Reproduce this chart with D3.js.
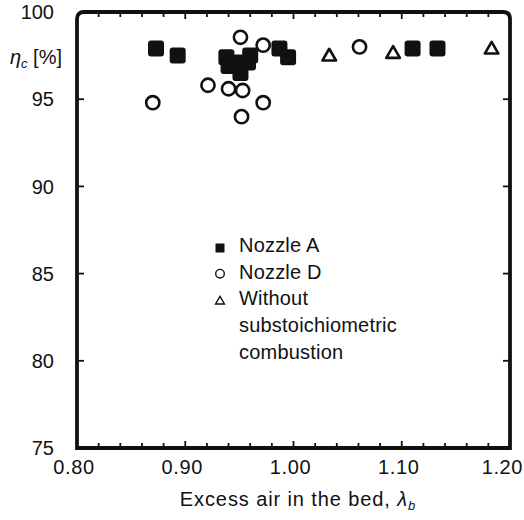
<!DOCTYPE html>
<html><head><meta charset="utf-8">
<script src="https://cdn.jsdelivr.net/npm/d3@7"></script>
<style>
html,body{margin:0;padding:0;background:#fff;}
text{font-family:"Liberation Sans",Arial,sans-serif;fill:#111;}
</style></head>
<body>
<svg id="chart" width="524" height="520"></svg>
<script>
// ---- data ----
const nozzleA_x = [0.873, 0.893, 0.938, 0.940, 0.947, 0.951, 0.958, 0.960, 0.987, 0.995, 1.110, 1.133];
const nozzleA_y = [97.9, 97.5, 97.4, 96.9, 97.1, 96.5, 97.1, 97.5, 97.9, 97.4, 97.9, 97.9];
const nozzleD_x = [0.870, 0.921, 0.940, 0.951, 0.953, 0.952, 0.972, 0.972, 1.061];
const nozzleD_y = [94.8, 95.8, 95.6, 98.55, 95.5, 94.0, 98.1, 94.8, 98.0];
const without_x = [1.033, 1.092, 1.183];
const without_y = [97.5, 97.65, 97.9];
const xTicks = [0.80, 0.90, 1.00, 1.10, 1.20];
const xTickLabels = ["0.80", "0.90", "1.00", "1.10", "1.20"];
const yTicks = [75, 80, 85, 90, 95, 100];
const legendLabels = ["Nozzle A", "Nozzle D", ["Without", "substoichiometric", "combustion"]];

// ---- layout ----
const svg = d3.select("#chart");
const L = 77, R = 510, T = 12, B = 448;
const x = d3.scaleLinear().domain([0.80, 1.20]).range([L, R]);
const y = d3.scaleLinear().domain([75, 100]).range([B, T]);
const fs = 20;

// minor x ticks (inward) every 0.02
const minorX = d3.range(0.82, 1.20, 0.02).map(v => +v.toFixed(2));
const g = svg.append("g").attr("stroke", "#111").attr("stroke-width", 1.8);
minorX.forEach(v => {
  const major = Math.abs(v * 10 - Math.round(v * 10)) < 1e-6;
  const len = major ? 7 : 5;
  g.append("line").attr("x1", x(v)).attr("x2", x(v)).attr("y1", B).attr("y2", B - len);
  g.append("line").attr("x1", x(v)).attr("x2", x(v)).attr("y1", T).attr("y2", T + len);
});
yTicks.slice(1, -1).forEach(v => {
  g.append("line").attr("x1", L).attr("x2", L + 7).attr("y1", y(v)).attr("y2", y(v));
  g.append("line").attr("x1", R).attr("x2", R - 7).attr("y1", y(v)).attr("y2", y(v));
});

// frame with rounded top corners
svg.append("path")
  .attr("d", `M${L},${B} L${L},${T + 7} Q${L},${T} ${L + 7},${T} L${R - 7},${T} Q${R},${T} ${R},${T + 7} L${R},${B} Z`)
  .attr("fill", "none").attr("stroke", "#111").attr("stroke-width", 3.8);

// tick labels
svg.append("g").selectAll("text").data(yTicks).join("text")
  .attr("x", 54).attr("y", d => y(d)).attr("dy", "0.36em")
  .attr("text-anchor", "end").attr("font-size", fs).text(d => d);
svg.append("g").selectAll("text").data(xTicks).join("text")
  .attr("x", (d, i) => i === xTicks.length - 1 ? 523 : x(d) - 3).attr("y", 474)
  .attr("text-anchor", (d, i) => i === xTicks.length - 1 ? "end" : "middle")
  .attr("font-size", fs).attr("letter-spacing", 0.6)
  .text((d, i) => xTickLabels[i]);

// axis titles
const yt = svg.append("text").attr("x", 62).attr("y", 64).attr("text-anchor", "end").attr("font-size", fs);
yt.append("tspan").attr("font-style", "italic").text("η");
yt.append("tspan").attr("font-style", "italic").attr("font-size", 13).attr("dy", 4).text("c");
yt.append("tspan").attr("dy", -4).text(" [%]");

const xt = svg.append("text").attr("x", 298).attr("y", 506).attr("text-anchor", "middle")
  .attr("font-size", fs).attr("letter-spacing", 0.9);
xt.append("tspan").text("Excess air in the bed, ");
xt.append("tspan").attr("font-style", "italic").text("λ");
xt.append("tspan").attr("font-style", "italic").attr("font-size", 13).attr("dy", 4).text("b");

// markers
const sq = 16;
svg.append("g").selectAll("rect").data(nozzleA_x).join("rect")
  .attr("x", (d, i) => x(d) - sq / 2).attr("y", (d, i) => y(nozzleA_y[i]) - sq / 2)
  .attr("width", sq).attr("height", sq).attr("rx", 3).attr("fill", "#111");
svg.append("g").selectAll("circle").data(nozzleD_x).join("circle")
  .attr("cx", d => x(d)).attr("cy", (d, i) => y(nozzleD_y[i])).attr("r", 6.6)
  .attr("fill", "none").attr("stroke", "#111").attr("stroke-width", 2.6);
const tri = d3.symbol().type(d3.symbolTriangle).size(80);
svg.append("g").selectAll("path").data(without_x).join("path")
  .attr("transform", (d, i) => `translate(${x(d)},${y(without_y[i]) + 1})`)
  .attr("d", tri).attr("fill", "none").attr("stroke", "#111").attr("stroke-width", 2.6).attr("stroke-linejoin", "round");

// legend
const lx = 220, ly0 = 252, ldy = 26.7;
const lg = svg.append("g");
lg.append("rect").attr("x", lx - 4.5).attr("y", ly0 - 8.5).attr("width", 9).attr("height", 9).attr("fill", "#111");
lg.append("circle").attr("cx", lx).attr("cy", ly0 + ldy - 5).attr("r", 4.3).attr("fill", "none").attr("stroke", "#111").attr("stroke-width", 1.4);
lg.append("path").attr("transform", `translate(${lx},${ly0 + 2 * ldy - 4})`)
  .attr("d", d3.symbol().type(d3.symbolTriangle).size(34)).attr("fill", "none").attr("stroke", "#111").attr("stroke-width", 1.4);
const lines = [legendLabels[0], legendLabels[1], ...legendLabels[2]];
lg.selectAll("text").data(lines).join("text")
  .attr("x", 239).attr("y", (d, i) => ly0 + i * ldy).attr("font-size", fs).attr("letter-spacing", 0.2).text(d => d);
</script>
</body></html>
